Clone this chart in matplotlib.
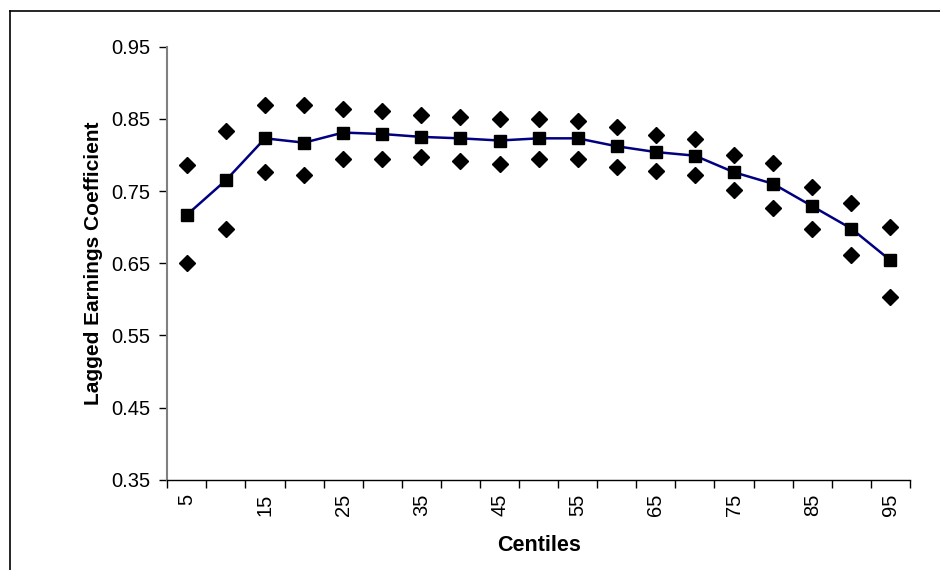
import matplotlib.pyplot as plt
from matplotlib.lines import Line2D

plt.rcParams['font.family'] = ['Liberation Sans', 'DejaVu Sans']

# centiles and coefficients
centiles = [5, 10, 15, 20, 25, 30, 35, 40, 45, 50, 55, 60, 65, 70, 75, 80, 85, 90, 95]
coef = [0.717, 0.765, 0.823, 0.817, 0.831, 0.829, 0.825, 0.823, 0.820, 0.823,
        0.823, 0.812, 0.804, 0.799, 0.776, 0.760, 0.729, 0.698, 0.654]
upper = [0.786, 0.833, 0.869, 0.869, 0.864, 0.861, 0.855, 0.853, 0.850, 0.850,
         0.847, 0.839, 0.828, 0.822, 0.800, 0.789, 0.756, 0.734, 0.700]
lower = [0.650, 0.697, 0.777, 0.772, 0.794, 0.794, 0.797, 0.792, 0.788, 0.794,
         0.794, 0.783, 0.778, 0.772, 0.752, 0.727, 0.697, 0.661, 0.603]
yticks = [0.35, 0.45, 0.55, 0.65, 0.75, 0.85, 0.95]
xlabels = [5, 15, 25, 35, 45, 55, 65, 75, 85, 95]

fig = plt.figure(figsize=(9.4, 5.7), dpi=100)
ax = fig.add_axes([0.178, 0.1584, 0.79, 0.7597])

ax.plot(centiles, coef, color='#000080', linewidth=1.8, marker='s',
        markersize=8.5, markerfacecolor='black', markeredgecolor='black')
ax.plot(centiles, upper, linestyle='none', marker='D', markersize=8,
        color='black')
ax.plot(centiles, lower, linestyle='none', marker='D', markersize=8,
        color='black')

ax.set_ylim(0.35, 0.95)
ax.set_xlim(2.5, 97.5)
ax.set_yticks(yticks)
ax.set_yticklabels([f'{v:.2f}' for v in yticks], fontsize=14.5)

# category boundaries get the tick marks, labels sit at the centres
ax.set_xticks([c - 2.5 for c in centiles] + [97.5])
ax.set_xticklabels([])
ax.set_xticks(xlabels, minor=True)
ax.set_xticklabels([str(v) for v in xlabels], minor=True, rotation=90,
                   fontsize=14.5)
ax.tick_params(axis='x', which='major', length=6, width=1, color='black',
               direction='out')
ax.tick_params(axis='x', which='minor', length=0, pad=10)
ax.tick_params(axis='y', length=6, width=1, color='black', direction='out',
               pad=6)

for s in ['top', 'right']:
    ax.spines[s].set_visible(False)
ax.spines['left'].set_color('#808080')
ax.spines['left'].set_linewidth(1.5)
ax.spines['bottom'].set_color('black')
ax.spines['bottom'].set_linewidth(1)

ax.set_xlabel('Centiles', fontsize=15.5, fontweight='bold', labelpad=14)
ax.set_ylabel('Lagged Earnings Coefficient', fontsize=15, fontweight='bold',
              labelpad=6)

# chart outer border (left and top edges visible)
fig.add_artist(Line2D([10 / 940, 10 / 940], [0, 1 - 11 / 570],
                      transform=fig.transFigure, color='black', linewidth=1.2))
fig.add_artist(Line2D([10 / 940, 1], [1 - 11 / 570, 1 - 11 / 570],
                      transform=fig.transFigure, color='black', linewidth=1.2))

fig.savefig('out.png', dpi=100)
